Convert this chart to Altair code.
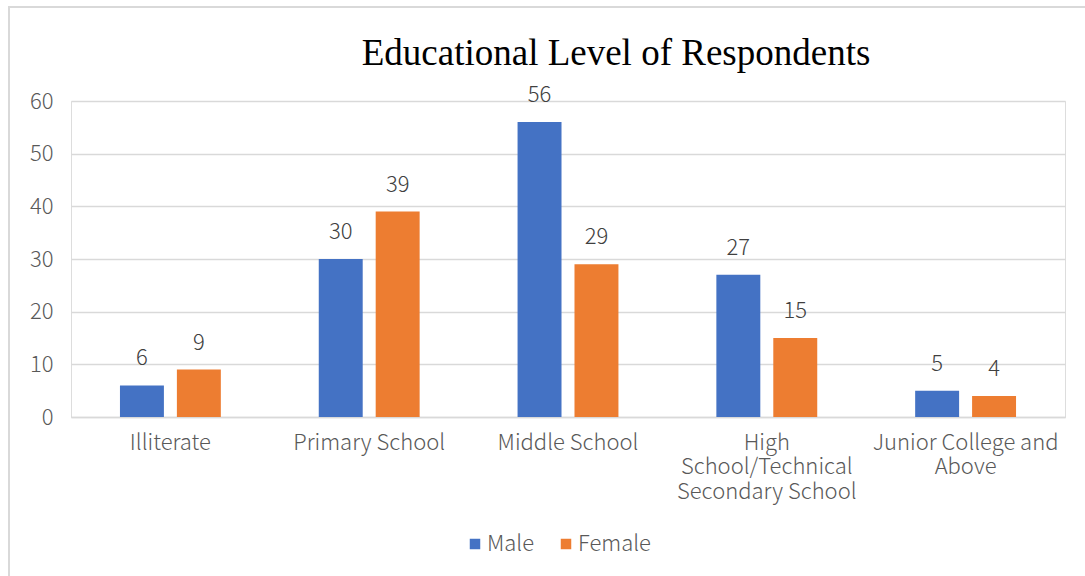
import altair as alt
import pandas as pd

title_text = "Educational Level of Respondents"
categories = ["Illiterate", "Primary School", "Middle School",
              "High School/Technical Secondary School", "Junior College and Above"]
category_lines = [["Illiterate"], ["Primary School"], ["Middle School"],
                  ["High", "School/Technical", "Secondary School"],
                  ["Junior College and", "Above"]]
series = ["Male", "Female"]
male = [6, 30, 56, 27, 5]
female = [9, 39, 29, 15, 4]
colors = ["#4472C4", "#ED7D31"]
y_ticks = [0, 10, 20, 30, 40, 50, 60]

rows = []
for c, m, f in zip(categories, male, female):
    rows.append({"cat": c, "series": "Male", "value": m})
    rows.append({"cat": c, "series": "Female", "value": f})
df = pd.DataFrame(rows)

# label expression for multi-line category labels
expr = "datum.value"
for c, lines in reversed(list(zip(categories, category_lines))):
    arr = "[" + ",".join("'" + l + "'" for l in lines) + "]"
    expr = f"datum.value == '{c}' ? {arr} : ({expr})"

SANS = "Noto Sans CJK SC"
FS = 22

x_enc = alt.X("cat:N", sort=categories, title=None,
              scale=alt.Scale(paddingInner=0, paddingOuter=0),
              axis=alt.Axis(labelAngle=0, labelExpr=expr, ticks=False,
                            labelPadding=15, labelFontSize=FS, labelLineHeight=24.5,
                            labelColor="#595959", labelFont=SANS, labelFontWeight=300,
                            labelLimit=400, domainColor="#d9d9d9", domainWidth=1.5,
                            grid=False))
xo_enc = alt.XOffset("series:N", sort=series,
                     scale=alt.Scale(paddingInner=0.228, paddingOuter=0.86))
y_enc = alt.Y("value:Q", title=None,
              scale=alt.Scale(domain=[0, 60], nice=False),
              axis=alt.Axis(values=y_ticks, ticks=False, domain=False,
                            labelPadding=18, labelFontSize=FS, labelColor="#595959",
                            labelFont=SANS, labelFontWeight=300,
                            gridColor="#d9d9d9", gridWidth=1.5))

base = alt.Chart(df).encode(x=x_enc, xOffset=xo_enc, y=y_enc)

bars = base.mark_bar().encode(
    color=alt.Color("series:N", sort=series,
                    scale=alt.Scale(domain=series, range=colors),
                    legend=alt.Legend(title=None, orient="none", direction="horizontal",
                                      legendX=393, legendY=432,
                                      symbolType="square", symbolSize=110,
                                      symbolStrokeWidth=0,
                                      labelFontSize=FS, labelFont=SANS, labelFontWeight=300,
                                      labelColor="#595959", columnPadding=20,
                                      labelOffset=1))
)

labels = base.mark_text(baseline="bottom", dy=-15, fontSize=FS, font=SANS,
                        fontWeight=300, color="#404040").encode(text="value:Q")

title = alt.Chart(pd.DataFrame({"t": [title_text]})).mark_text(
    font="Liberation Serif", fontSize=37, color="#000000", baseline="alphabetic",
    align="center"
).encode(text="t:N", x=alt.value(616 - 71), y=alt.value(65 - 101))

border = alt.Chart(pd.DataFrame({"a": [0]})).mark_rect(
    fill=None, stroke="#d9d9d9", strokeWidth=2
).encode(x=alt.value(9 - 71), x2=alt.value(1120 - 71),
         y=alt.value(7 - 101), y2=alt.value(620 - 101))

chart = alt.layer(border, bars, labels, title).properties(
    width=994, height=316,
    autosize=alt.AutoSizeParams(type="none"),
    padding={"left": 71, "top": 101, "right": 20, "bottom": 159},
).configure_view(stroke=None).configure(background="white")

chart.save("out.html", embed_options={"renderer": "svg", "actions": False})
